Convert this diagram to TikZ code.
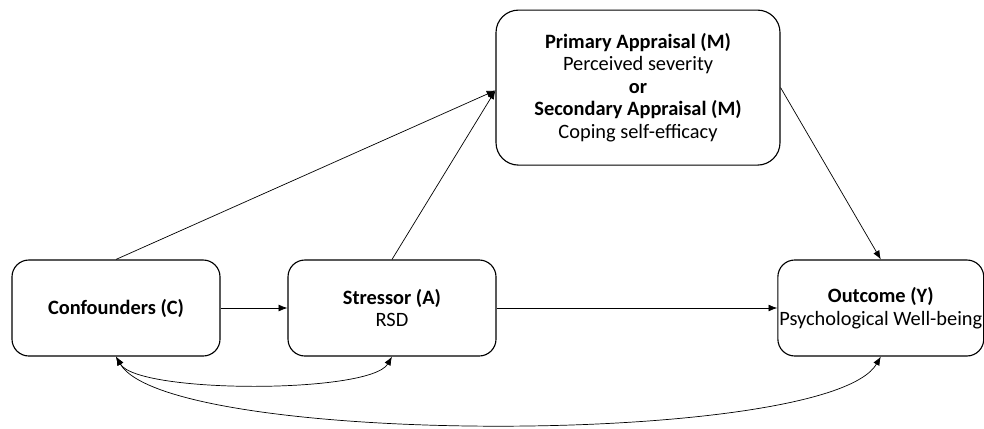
\documentclass[tikz,border=0pt]{standalone}
\usepackage{fontspec}
\setmainfont{Carlito}
\usepackage{tikz}
\usetikzlibrary{arrows.meta,positioning}

\begin{document}
\begin{tikzpicture}[
  >={Latex[length=2.2mm,width=1.7mm]},
  every node/.style={font=\fontsize{14.5}{16}\selectfont},
  box/.style={draw=black, line width=0.8pt, rounded corners=12pt, minimum width=5.2cm, minimum height=2.4cm, inner xsep=1pt, align=center},
  flow/.style={->, line width=0.5pt},
  assoc/.style={<->, line width=0.5pt}
]
\useasboundingbox (0,0) rectangle (24.6,10.7);

\node[box] (conf) at (2.9,3.0) {\textbf{Confounders (C)}};
\node[box] (stress) at (9.8,3.0) {\textbf{Stressor (A)}\\RSD};
\node[box, minimum width=5.1cm] (outcome) at (22.02,3.0) {\textbf{Outcome (Y)}\\Psychological Well-being};
\node[box, minimum width=7.1cm, minimum height=3.875cm, rounded corners=16pt] (appr) at (15.95,8.51)
  {\textbf{Primary Appraisal (M)}\\Perceived severity\\\textbf{or}\\\textbf{Secondary Appraisal (M)}\\Coping self-efficacy};

\draw[flow] (conf.east) -- (stress.west);
\draw[flow] (stress.east) -- (outcome.west);
\draw[flow] (conf.north) -- ([yshift=-2pt]appr.west);
\draw[flow] (stress.north) -- ([yshift=-2pt]appr.west);
\draw[flow] (appr.east) -- (outcome.north);

\draw[assoc] (conf.south) to[out=-60, in=-120, looseness=0.4] (stress.south);
\draw[assoc] (conf.south) to[out=-60, in=-120, looseness=0.35] (outcome.south);
\end{tikzpicture}
\end{document}
